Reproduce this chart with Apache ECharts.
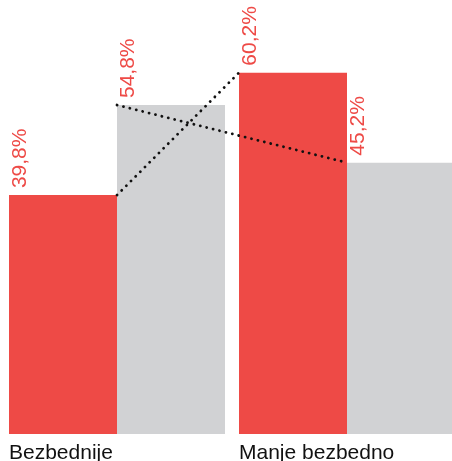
<!DOCTYPE html>
<html>
<head>
<meta charset="utf-8">
<style>
html,body{margin:0;padding:0;background:#fff;}
#chart{width:452px;height:461px;}
</style>
<script src="https://cdn.jsdelivr.net/npm/echarts@6/dist/echarts.min.js"></script>
</head>
<body>
<div id="chart"></div>
<script>
var categories = ['Bezbednije', 'Manje bezbedno'];
var redValues = [39.8, 60.2];
var grayValues = [54.8, 45.2];
var valueLabels = { red: ['39,8%', '60,2%'], gray: ['54,8%', '45,2%'] };

var RED = '#ee4a46';
var GRAY = '#d1d2d4';
var FONT = 'Liberation Sans, Arial, Helvetica, sans-serif';
var catGapFrac = 14 / 230; // category gap relative to category width

// connector endpoints in category units (category i spans i..i+1 on a 0..2 value axis)
var half = catGapFrac / 2;
var redLine = [[0.5, redValues[0]], [1 + half, redValues[1]]];
var grayLine = [[0.5, grayValues[0]], [1.5, grayValues[1]]];

var chart = echarts.init(document.getElementById('chart'), null, { renderer: 'canvas' });

var labelBase = {
  show: true,
  position: [11, -7],
  rotate: 90,
  align: 'left',
  verticalAlign: 'middle',
  color: RED,
  fontSize: 21,
  fontFamily: FONT
};

chart.setOption({
  animation: false,
  grid: { left: 2, top: 0, width: 460, bottom: 27, containLabel: false, outerBoundsMode: 'none' },
  xAxis: [
    {
      type: 'category',
      data: categories,
      axisLine: { show: false },
      axisTick: { show: false },
      axisLabel: {
        interval: 0,
        align: 'left',
        margin: 9,
        padding: [0, 0, 0, -108],
        color: '#111',
        fontSize: 21,
        fontFamily: FONT,
        hideOverlap: false
      }
    },
    {
      type: 'value',
      min: 0,
      max: 2,
      show: false
    }
  ],
  yAxis: { type: 'value', min: 0, max: 72.3, show: false },
  series: [
    {
      type: 'bar',
      data: redValues,
      itemStyle: { color: RED },
      barGap: '0%',
      barCategoryGap: (catGapFrac * 100) + '%',
      label: Object.assign({}, labelBase, {
        formatter: function (p) { return valueLabels.red[p.dataIndex]; }
      })
    },
    {
      type: 'bar',
      data: grayValues,
      itemStyle: { color: GRAY },
      barGap: '0%',
      barCategoryGap: (catGapFrac * 100) + '%',
      label: Object.assign({}, labelBase, {
        formatter: function (p) { return valueLabels.gray[p.dataIndex]; }
      })
    },
    {
      type: 'line',
      xAxisIndex: 1,
      data: redLine,
      symbol: 'none',
      z: 5,
      lineStyle: { color: '#111', width: 2.8, type: [0.1, 6.5], cap: 'round' }
    },
    {
      type: 'line',
      xAxisIndex: 1,
      data: grayLine,
      symbol: 'none',
      z: 5,
      lineStyle: { color: '#111', width: 2.8, type: [0.1, 6.5], cap: 'round' }
    }
  ]
});
</script>
</body>
</html>
